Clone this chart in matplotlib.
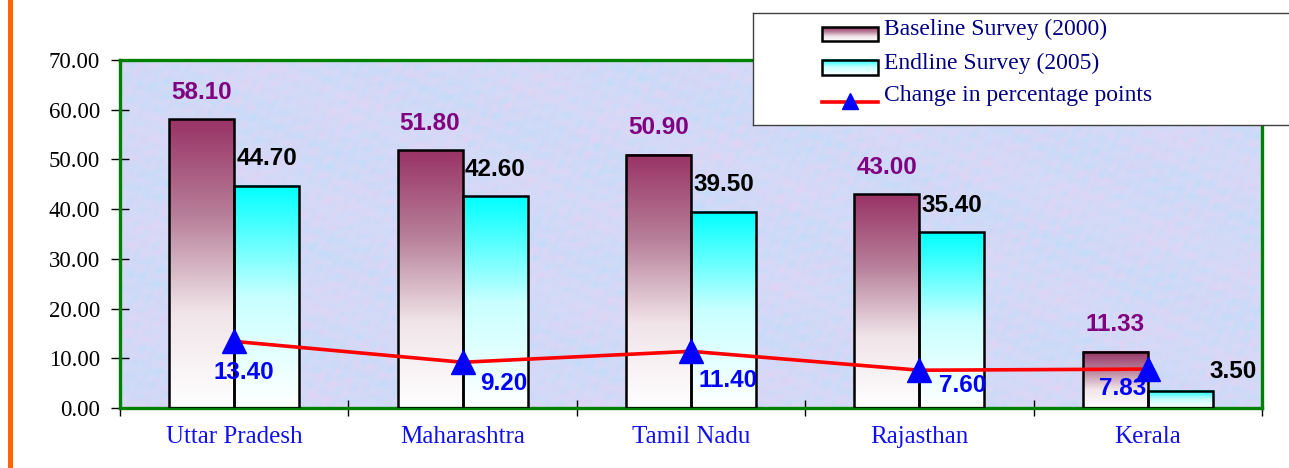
import numpy as np
import matplotlib
matplotlib.use("Agg")
import matplotlib.pyplot as plt
from matplotlib.colors import LinearSegmentedColormap
from matplotlib.patches import Rectangle

# survey results by state
states = ["Uttar Pradesh", "Maharashtra", "Tamil Nadu", "Rajasthan", "Kerala"]
baseline = [58.10, 51.80, 50.90, 43.00, 11.33]
endline = [44.70, 42.60, 39.50, 35.40, 3.50]
change = [13.40, 9.20, 11.40, 7.60, 7.83]
legend_labels = ["Baseline Survey (2000)", "Endline Survey (2005)", "Change in percentage points"]

# label nudges in pixels (dx, dy)
end_off = [(0, 27), (0, 27), (0, 27), (0, 27), (53, 19)]
chg_off = [(10, -31), (41, -21), (37, -29), (43, -15), (-25, -19)]

W, H = 1289, 468
serif = ["Liberation Serif", "DejaVu Serif"]
sans = ["Liberation Sans", "DejaVu Sans"]

fig = plt.figure(figsize=(W / 100, H / 100), dpi=100)
fig.patch.set_facecolor("white")
ax = fig.add_axes([120 / W, 1 - 408 / H, (1262 - 120) / W, (408 - 60) / H])

# mottled background
ny, nx = 80, 260
yy, xx = np.mgrid[0:ny, 0:nx].astype(float)
n1 = (np.sin(xx * 0.87 + yy * 1.91) + np.sin(xx * 0.43 - yy * 1.23 + 1.7)
      + np.sin(xx * 1.71 + yy * 0.69 + 0.4) + np.sin(xx * 2.13 - yy * 2.37 + 2.2)
      + np.sin(xx * 0.19 + yy * 0.31 + 0.8))
n2 = (np.sin(xx * 0.69 - yy * 1.57 + 0.9) + np.sin(xx * 1.93 + yy * 0.81 + 2.9)
      + np.sin(xx * 0.37 + yy * 2.19 + 0.3) + np.sin(xx * 2.41 + yy * 1.83 + 1.1)
      + np.sin(xx * 0.11 - yy * 0.27 + 2.0))
n1 = (n1 - n1.min()) / (n1.max() - n1.min())
n2 = (n2 - n2.min()) / (n2.max() - n2.min())
base = np.array([0.83, 0.86, 0.97])
pink = np.array([0.92, 0.82, 0.95])
cyan = np.array([0.72, 0.87, 0.98])
tex = base + (pink - base) * (n1[..., None] ** 2) + (cyan - base) * (n2[..., None] ** 2)
ax.imshow(np.clip(tex, 0, 1), extent=[-0.5, 4.5, 0, 70], aspect="auto",
          interpolation="bilinear", zorder=0)

x = np.arange(len(states))
w = 0.285
cm_base = LinearSegmentedColormap.from_list("base", ["#ffffff", "#f0e4e8", "#b77f99", "#993366"])
cm_end = LinearSegmentedColormap.from_list("end", ["#ffffff", "#c8ffff", "#00ffff"])
grad = np.linspace(0, 1, 256).reshape(-1, 1)

for xi, b, e in zip(x, baseline, endline):
    ax.imshow(grad, extent=[xi - w, xi, 0, b], origin="lower", aspect="auto",
              cmap=cm_base, zorder=2)
    ax.imshow(grad, extent=[xi, xi + w, 0, e], origin="lower", aspect="auto",
              cmap=cm_end, zorder=2)
ax.bar(x - w / 2, baseline, w, facecolor="none", edgecolor="black", linewidth=1.8, zorder=3)
ax.bar(x + w / 2, endline, w, facecolor="none", edgecolor="black", linewidth=1.8, zorder=3)

ax.plot(x, change, color="red", linewidth=2.6, marker="^", markersize=17,
        markerfacecolor="blue", markeredgecolor="blue", zorder=4)

for i in range(len(states)):
    ax.annotate(f"{baseline[i]:.2f}", (x[i] - w / 2, baseline[i]), xytext=(0, 27),
                textcoords="offset pixels", ha="center", va="center",
                color="#800080", fontsize=17.5, fontweight="bold", family=sans, zorder=5)
    ax.annotate(f"{endline[i]:.2f}", (x[i] + w / 2, endline[i]), xytext=end_off[i],
                textcoords="offset pixels", ha="center", va="center",
                color="black", fontsize=17.5, fontweight="bold", family=sans, zorder=5)
    ax.annotate(f"{change[i]:.2f}", (x[i], change[i]), xytext=chg_off[i],
                textcoords="offset pixels", ha="center", va="center",
                color="#0000ff", fontsize=17.5, fontweight="bold", family=sans, zorder=5)

ax.set_xlim(-0.5, 4.5)
ax.set_ylim(0, 70)
ax.set_yticks(np.arange(0, 71, 10))
ax.set_yticklabels([f"{v:.2f}" for v in np.arange(0, 71, 10)], family=serif, fontsize=16.5)
ax.tick_params(axis="y", direction="inout", length=13, width=1, pad=8, color="black")
ax.set_xticks(x)
ax.set_xticklabels(states, family=serif, fontsize=18, color="#1010ee")
ax.set_xticks(np.arange(-0.5, 4.6, 1), minor=True)
ax.tick_params(axis="x", which="major", length=0, pad=13)
ax.tick_params(axis="x", which="minor", direction="inout", length=12, width=1, color="black")
for s in ax.spines.values():
    s.set_color("#008000")
    s.set_linewidth(2.4)

# orange rule on the left edge
fig.add_artist(Rectangle((8 / W, 0), 5 / W, 1, transform=fig.transFigure,
                         facecolor="#ff6600", edgecolor="none"))

# legend box
lax = fig.add_axes([753 / W, 1 - 125 / H, 545 / W, 112 / H])
lax.set_facecolor("white")
lax.imshow(grad, extent=[69, 125, 28, 14], origin="lower", aspect="auto", cmap=cm_base, zorder=1)
lax.imshow(grad, extent=[69, 125, 62, 47], origin="lower", aspect="auto", cmap=cm_end, zorder=1)
lax.add_patch(Rectangle((69, 14), 56, 14, facecolor="none", edgecolor="black", lw=1.8, zorder=2))
lax.add_patch(Rectangle((69, 47), 56, 15, facecolor="none", edgecolor="black", lw=1.8, zorder=2))
lax.plot([69, 125], [89, 89], color="red", lw=2.6)
lax.plot([97], [88], marker="^", markersize=11, color="blue")
for ty, t in zip([16, 50, 83], legend_labels):
    lax.text(131, ty, t, ha="left", va="center", color="#000080", fontsize=17, family=serif)
lax.set_xlim(0, 545)
lax.set_ylim(112, 0)
lax.set_xticks([])
lax.set_yticks([])
for s in lax.spines.values():
    s.set_color("#404040")
    s.set_linewidth(1)

fig.savefig("out.png", dpi=100)
